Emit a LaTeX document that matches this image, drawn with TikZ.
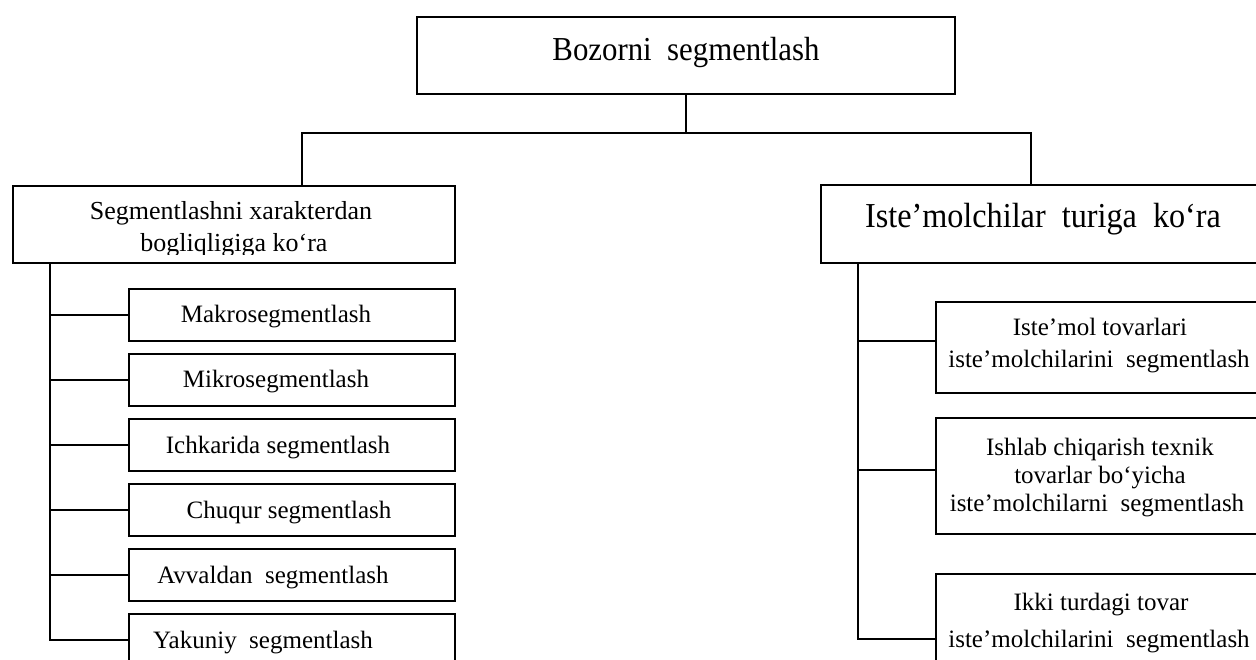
\documentclass[tikz,border=0pt]{standalone}
\usepackage{fontspec}
\setmainfont{Liberation Serif}
\newfontfamily\headfont[FakeStretch=0.92]{Liberation Serif}
\begin{document}
\begin{tikzpicture}[x=1pt,y=-1pt,
  box/.style={draw,line width=1.8pt,inner sep=0pt,anchor=north west},
  wire/.style={line width=1.8pt},
  txt/.style={inner sep=0pt,anchor=base},
  big/.style={txt,font=\headfont\fontsize{33.5}{38}\selectfont},
  mid/.style={txt,font=\fontsize{26}{30}\selectfont},
  small/.style={txt,font=\fontsize{25}{30}\selectfont}]
\useasboundingbox (0,0) rectangle (1256,660);
\clip (0,0) rectangle (1256,660);

% root
\node[box,minimum width=538pt,minimum height=77pt] (root) at (416,16) {};
\node[big] (root-t) at (686,61) {Bozorni\ \ segmentlash};

% first level
\node[box,minimum width=442pt,minimum height=77pt] (lh) at (12,185) {};
\node[box,minimum width=480pt,minimum height=78pt] (rh) at (820,184) {};
\begin{scope}
  % the text frame of this box cuts the second line just under its baseline
  \clip (lh.north west) rectangle ([yshift=9pt]lh.south east);
  \node[mid] (lh-t1) at (231,220) {Segmentlashni xarakterdan};
  \node[mid] (lh-t2) at (234,252) {bogliqligiga\ ko‘ra};
\end{scope}
\node[big,font=\headfont\fontsize{35}{40}\selectfont] (rh-t) at (1043,228) {Iste’molchilar\ \ turiga\ \ ko‘ra};

% left children
\foreach \i/\y in {1/288,2/353,3/418,4/483,5/548,6/613}
  \node[box,minimum width=326pt,minimum height=52pt] (c\i) at (128,\y) {};
\node[small] (c1-t) at (276,323) {Makrosegmentlash};
\node[small] (c2-t) at (276,388) {Mikrosegmentlash};
\node[small] (c3-t) at (278,453) {Ichkarida\ segmentlash};
\node[small] (c4-t) at (289,518) {Chuqur segmentlash};
\node[small] (c5-t) at (273,583) {Avvaldan\ \ segmentlash};
\node[small] (c6-t) at (263,648) {Yakuniy\ \ segmentlash};

% right children
\node[box,minimum width=365pt,minimum height=91pt] (d1) at (935,301) {};
\node[box,minimum width=365pt,minimum height=116pt] (d2) at (935,417) {};
\node[box,minimum width=365pt,minimum height=130pt] (d3) at (935,573) {};
\node[small] (d1-t1) at (1100,336) {Iste’mol tovarlari};
\node[small] (d1-t2) at (1099,367) {iste’molchilarini\ \ segmentlash};
\node[small] (d2-t1) at (1100,455) {Ishlab chiqarish texnik};
\node[small] (d2-t2) at (1100,483) {tovarlar bo‘yicha};
\node[small] (d2-t3) at (1097,511) {iste’molchilarni\ \ segmentlash};
\node[small] (d3-t1) at (1101,610) {Ikki\ turdagi tovar};
\node[small] (d3-t2) at (1099,647) {iste’molchilarini\ \ segmentlash};

% connectors from the root
\coordinate (bus) at (685,133);
\coordinate (busL) at (302,133);
\coordinate (busR) at (1031,133);
\draw[wire] (root.south) -- (root.south |- bus);
\draw[wire] (lh.north -| busL) -- (busL) -- (busR) -- (rh.north -| busR);

% left trunk
\coordinate (lt) at (50,0);
\draw[wire] (lh.south -| lt) -- (lt |- c6.west) -- (c6.west);
\foreach \i in {1,...,5}
  \draw[wire] (lt |- c\i.west) -- (c\i.west);

% right trunk
\coordinate (rt) at (858,0);
\draw[wire] (rh.south -| rt) -- (rt |- d3.west) -- (d3.west);
\draw[wire] ([yshift=6pt]d1.west -| rt) -- ([yshift=6pt]d1.west);
\draw[wire] ([yshift=6pt]d2.west -| rt) -- ([yshift=6pt]d2.west);
\end{tikzpicture}
\end{document}
